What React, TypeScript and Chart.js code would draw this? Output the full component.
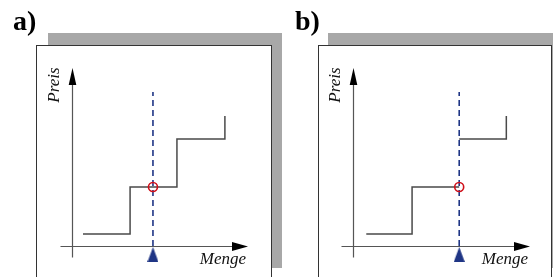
import React, { useEffect, useRef } from "react";
import { Chart, registerables } from "chart.js";
Chart.register(...registerables);

// ---- data ----
const panelLabels = ["a)", "b)"];
const axisTitleX = "Menge";
const axisTitleY = "Preis";

// Panel a: one continuous step curve
const stepA_x = [0.5, 2.64, 4.77, 6.95];
const stepA_y = [0.54, 2.65, 4.81, 5.84];
// Panel b: two separate step pieces
const stepB1_x = [0.6, 2.67, 4.8];
const stepB1_y = [0.54, 2.65, 2.65];
const stepB2_x = [4.8, 6.93];
const stepB2_y = [4.81, 5.84];

const quantities = [3.68, 4.8]; // dashed line position per panel
const prices = [2.65, 2.65]; // circle height per panel
const dashTop = 6.92;
const markerY = -0.38;
const axisMax = 8;

const NAVY = "#1f3585";
const RED = "#d0101a";
const STEP = "#4a4a4a";

function pts(xs: number[], ys: number[]) {
  return xs.map((x, i) => ({ x, y: ys[i] }));
}

function makeTriangle() {
  const c = document.createElement("canvas");
  c.width = 11;
  c.height = 15;
  const g = c.getContext("2d")!;
  g.fillStyle = NAVY;
  g.beginPath();
  g.moveTo(5.5, 0);
  g.lineTo(11, 15);
  g.lineTo(0, 15);
  g.closePath();
  g.fill();
  return c;
}

type PanelProps = {
  idx: number;
  left: number;
  width: number;
  pad: { left: number; right: number; top: number; bottom: number };
  boxL: number;
  boxR: number;
  shadowL: number;
  shadowR: number;
  labelL: number;
};

function Panel(p: PanelProps) {
  const ref = useRef<HTMLCanvasElement | null>(null);
  useEffect(() => {
    const canvas = ref.current!;
    const tri = makeTriangle();
    const idx = p.idx;
    const q = quantities[idx];
    const steps =
      idx === 0
        ? [pts(stepA_x, stepA_y)]
        : [pts(stepB1_x, stepB1_y), pts(stepB2_x, stepB2_y)];

    const decor = {
      id: "decor",
      beforeDraw(chart: any) {
        const ctx = chart.ctx;
        const a = chart.chartArea;
        ctx.save();
        // shadow
        ctx.fillStyle = "#a8a8a8";
        ctx.fillRect(a.left - p.shadowL, a.top - 35, p.shadowL + a.right - a.left + p.shadowR, a.bottom - a.top + 57);
        // box
        ctx.fillStyle = "#ffffff";
        const bx = a.left - p.boxL;
        const bw = p.boxL + (a.right - a.left) + p.boxR;
        ctx.fillRect(bx, a.top - 23, bw, 400);
        ctx.strokeStyle = "#333333";
        ctx.lineWidth = 1;
        ctx.strokeRect(bx + 0.5, a.top - 23 + 0.5, bw - 1, 400);
        // panel label
        ctx.fillStyle = "#000";
        ctx.font = "bold 28px 'Liberation Serif'";
        ctx.textBaseline = "alphabetic";
        ctx.textAlign = "left";
        ctx.fillText(panelLabels[idx], a.left - p.labelL, 30);
        ctx.restore();
      },
      beforeDatasetsDraw(chart: any) {
        const ctx = chart.ctx;
        const xs = chart.scales.x;
        const ys = chart.scales.y;
        const x0 = Math.round(xs.getPixelForValue(0)) + 0.5;
        const y0 = Math.round(ys.getPixelForValue(0)) + 0.5;
        const yTop = ys.getPixelForValue(axisMax);
        const xEnd = xs.getPixelForValue(axisMax);
        ctx.save();
        ctx.strokeStyle = "#555";
        ctx.lineWidth = 1.2;
        ctx.beginPath();
        ctx.moveTo(x0, y0 + 11);
        ctx.lineTo(x0, yTop + 10);
        ctx.moveTo(x0 - 12, y0);
        ctx.lineTo(xEnd - 10, y0);
        ctx.stroke();
        ctx.fillStyle = "#000";
        ctx.beginPath();
        ctx.moveTo(x0, yTop);
        ctx.lineTo(x0 + 3.8, yTop + 17);
        ctx.lineTo(x0 - 3.8, yTop + 17);
        ctx.closePath();
        ctx.fill();
        ctx.beginPath();
        ctx.moveTo(xEnd, y0);
        ctx.lineTo(xEnd - 16, y0 - 4.5);
        ctx.lineTo(xEnd - 16, y0 + 4.5);
        ctx.closePath();
        ctx.fill();
        // axis titles
        ctx.font = "italic 17px 'Liberation Serif'";
        ctx.fillStyle = "#111";
        ctx.textAlign = "center";
        ctx.textBaseline = "middle";
        ctx.fillText(axisTitleX, xEnd - 25, y0 + 13);
        ctx.translate(x0 - 18, yTop + 17);
        ctx.rotate(-Math.PI / 2);
        ctx.fillText(axisTitleY, 0, 0);
        ctx.restore();
      },
    };

    const datasets: any[] = [
      {
        data: [{ x: q, y: prices[idx] }],
        pointStyle: "circle",
        pointRadius: 4.5,
        borderColor: RED,
        borderWidth: 1.6,
        backgroundColor: "rgba(0,0,0,0)",
        clip: false,
      },
      {
        data: [{ x: q, y: markerY }],
        pointStyle: tri,
        pointRadius: 8,
        clip: false,
      },
      {
        data: [
          { x: q, y: 0 },
          { x: q, y: dashTop },
        ],
        showLine: true,
        borderColor: NAVY,
        borderWidth: 1.6,
        borderDash: [6, 4],
        pointRadius: 0,
        clip: false,
      },
      ...steps.map((s) => ({
        data: s,
        showLine: true,
        stepped: "before",
        borderColor: STEP,
        borderWidth: 1.5,
        pointRadius: 0,
        clip: false,
      })),
    ];

    const chart = new Chart(canvas, {
      type: "scatter",
      data: { datasets },
      options: {
        animation: false,
        responsive: false,
        events: [],
        layout: { padding: p.pad },
        scales: {
          x: { type: "linear", min: 0, max: axisMax, display: false },
          y: { type: "linear", min: 0, max: axisMax, display: false },
        },
        plugins: { legend: { display: false }, tooltip: { enabled: false } },
      },
      plugins: [decor],
    } as any);
    return () => chart.destroy();
  }, []);
  return (
    <canvas
      ref={ref}
      width={p.width}
      height={277}
      style={{ position: "absolute", left: p.left, top: 0, width: p.width, height: 277 }}
    />
  );
}

export default function App() {
  return (
    <div style={{ position: "fixed", left: 0, top: 0, width: 553, height: 277, background: "#fff", overflow: "hidden" }}>
      <Panel
        idx={0}
        left={0}
        width={290}
        pad={{ left: 72, right: 42, top: 68, bottom: 31 }}
        boxL={36}
        boxR={24}
        shadowL={24}
        shadowR={34}
        labelL={59}
      />
      <Panel
        idx={1}
        left={290}
        width={263}
        pad={{ left: 63, right: 23, top: 68, bottom: 31 }}
        boxL={35}
        boxR={22}
        shadowL={25}
        shadowR={40}
        labelL={58}
      />
    </div>
  );
}
